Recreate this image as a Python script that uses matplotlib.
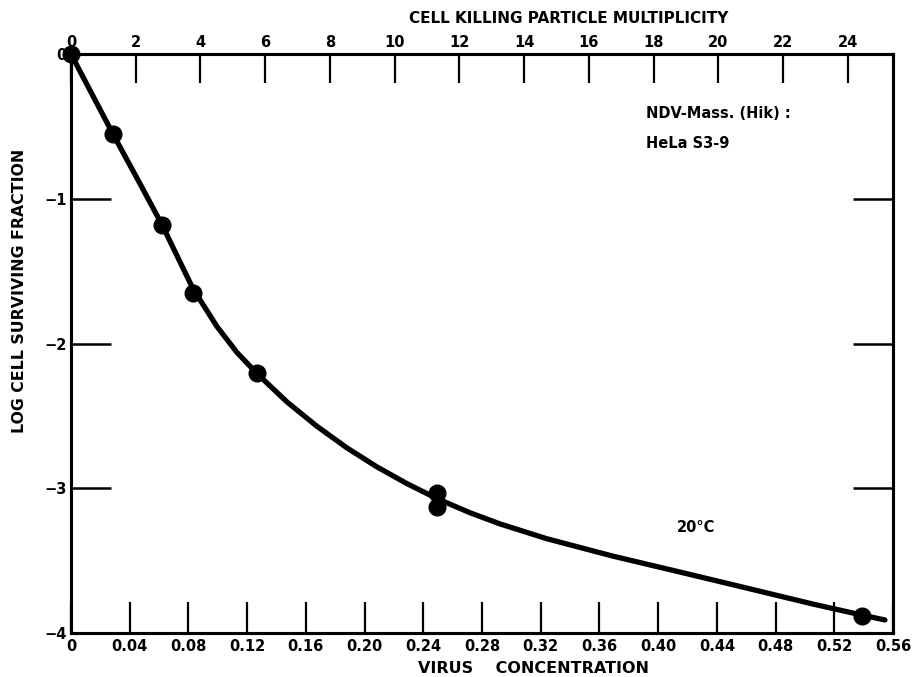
import numpy as np
import matplotlib
matplotlib.use("Agg")
import matplotlib.pyplot as plt

# measured points (virus concentration, log surviving fraction)
conc_pts = [0.0, 0.0286, 0.062, 0.083, 0.127, 0.249, 0.249, 0.539]
logsf_pts = [0.0, -0.55, -1.18, -1.65, -2.20, -3.03, -3.13, -3.88]

# hand drawn curve
curve_x = [0.0, 0.0143, 0.0286, 0.0456, 0.0620, 0.0831, 0.0995, 0.1131, 0.1267,
           0.1471, 0.1676, 0.1880, 0.2084, 0.2289, 0.2493, 0.2718, 0.2922,
           0.3243, 0.3692, 0.4149, 0.4605, 0.5054, 0.5388, 0.5545]
curve_y = [0.0, -0.276, -0.552, -0.869, -1.179, -1.621, -1.883, -2.062, -2.207,
           -2.403, -2.572, -2.721, -2.852, -2.968, -3.071, -3.169, -3.246,
           -3.349, -3.469, -3.579, -3.690, -3.800, -3.876, -3.910]

bottom_ticks = [0, 0.04, 0.08, 0.12, 0.16, 0.20, 0.24, 0.28, 0.32, 0.36, 0.40, 0.44, 0.48, 0.52, 0.56]
bottom_labels = ['0', '0.04', '0.08', '0.12', '0.16', '0.20', '0.24', '0.28', '0.32',
                 '0.36', '0.40', '0.44', '0.48', '0.52', '0.56']
top_ticks = [0, 2, 4, 6, 8, 10, 12, 14, 16, 18, 20, 22, 24]
y_ticks = [0, -1, -2, -3, -4]
y_labels = ['0', '\u22121', '\u22122', '\u22123', '\u22124']

plt.rcParams['font.family'] = ['DejaVu Sans']
plt.rcParams['font.weight'] = 'bold'

fig = plt.figure(figsize=(9.15, 6.77), dpi=100)
ax = fig.add_axes([0.0776, 0.065, 0.8984, 0.855])

ax.plot(curve_x, curve_y, color='black', lw=3.8, solid_capstyle='round',
        solid_joinstyle='round', zorder=3)
ax.plot(conc_pts, logsf_pts, 'o', color='black', ms=12, zorder=4, clip_on=False)

ax.set_xlim(0, 0.56)
ax.set_ylim(-4, 0)

for s in ax.spines.values():
    s.set_linewidth(2.2)

ax.set_xticks(bottom_ticks)
ax.set_xticklabels(bottom_labels)
ax.set_yticks(y_ticks)
ax.set_yticklabels(y_labels)
ax.tick_params(axis='x', direction='in', length=22, width=1.6, labelsize=10.5, pad=4)
ax.tick_params(axis='y', direction='in', length=29, width=1.8, labelsize=10.5, pad=3,
               right=True)

top = ax.twiny()
top.set_xlim(0, 25.4)
top.set_xticks(top_ticks)
top.tick_params(axis='x', direction='in', length=21, width=1.6, labelsize=10.5, pad=3)
for s in top.spines.values():
    s.set_linewidth(2.2)
ax.set_zorder(top.get_zorder() + 1)
ax.patch.set_visible(False)

# axis titles, placed where they sit in the figure
fig.text(0.622, 0.973, 'CELL KILLING PARTICLE MULTIPLICITY', ha='center', va='center',
         fontsize=11, fontweight='bold')
fig.text(0.583, 0.013, 'VIRUS    CONCENTRATION', ha='center', va='center',
         fontsize=11.5, fontweight='bold')
fig.text(0.021, 0.57, 'LOG CELL SURVIVING FRACTION', ha='center', va='center',
         rotation=90, fontsize=11.3, fontweight='bold')

ax.text(0.7, 0.898, 'NDV-Mass. (Hik) :', transform=ax.transAxes, fontsize=10.5,
        fontweight='bold', va='center')
ax.text(0.7, 0.846, 'HeLa S3-9', transform=ax.transAxes, fontsize=10.5,
        fontweight='bold', va='center')
ax.text(0.737, 0.183, '20\u00b0C', transform=ax.transAxes, fontsize=10.5,
        fontweight='bold', va='center')

fig.savefig('out.png', dpi=100)
